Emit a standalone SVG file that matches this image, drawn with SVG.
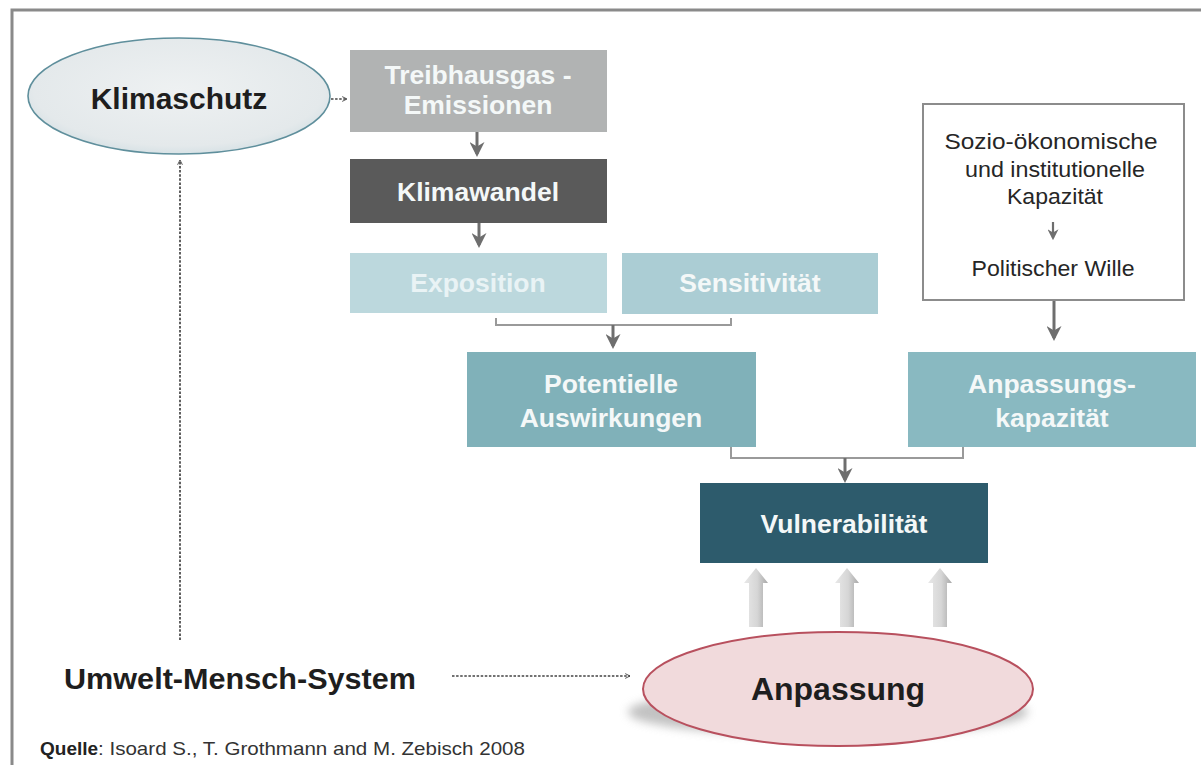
<svg xmlns="http://www.w3.org/2000/svg" width="1201" height="765" viewBox="0 0 1201 765">
<defs>
<style>
.lbl{font-family:"Liberation Sans",Arial,sans-serif;font-weight:bold;text-anchor:middle}
.w{fill:#f4f8f8;font-size:26.5px}
.dk{fill:#1e1e1e}
.soz{font-family:"Liberation Sans",Arial,sans-serif;font-weight:normal;text-anchor:middle;font-size:21.5px;fill:#262626}
.conn{fill:none;stroke:#6e6e6e;stroke-width:3}
.thin{fill:none;stroke:#9a9a9a;stroke-width:2}
.dot{fill:none;stroke:#444;stroke-width:1.7;stroke-dasharray:2.5 1.6}
</style>
<marker id="ah" viewBox="0 0 10 10" refX="8" refY="5" markerWidth="5" markerHeight="5" orient="auto-start-reverse" markerUnits="strokeWidth">
<path d="M0,0 L10,5 L0,10 L3,5 Z" fill="#6e6e6e"/>
</marker>
<marker id="oh" viewBox="0 0 10 10" refX="9" refY="5" markerWidth="6" markerHeight="6" orient="auto" markerUnits="userSpaceOnUse">
<path d="M1,1 L9,5 L1,9" fill="none" stroke="#444" stroke-width="1.5"/>
</marker>
<radialGradient id="gk" cx="50%" cy="45%" r="60%">
<stop offset="0" stop-color="#eef1f2"/><stop offset="0.8" stop-color="#e4e9eb"/><stop offset="1" stop-color="#cfdde2"/>
</radialGradient>
<linearGradient id="ga" x1="0" y1="0" x2="1" y2="0">
<stop offset="0" stop-color="#e8e8e8"/><stop offset="0.55" stop-color="#d6d6d6"/><stop offset="1" stop-color="#a8a8a8"/>
</linearGradient>
<filter id="sh" x="-20%" y="-20%" width="140%" height="160%"><feGaussianBlur stdDeviation="5"/></filter>
</defs>
<rect x="0" y="0" width="1201" height="765" fill="#ffffff"/>
<path d="M12,765 V10 H1201" fill="none" stroke="#8a8a8a" stroke-width="3"/>

<g id="connectors">
<line class="dot" x1="331" y1="99" x2="347" y2="99" marker-end="url(#oh)"/>
<line class="conn" x1="477" y1="132" x2="477" y2="154" marker-end="url(#ah)"/>
<line class="conn" x1="479" y1="223" x2="479" y2="245" marker-end="url(#ah)"/>
<path class="thin" d="M496,318 V325 H731 V318"/>
<line class="conn" x1="613" y1="325" x2="613" y2="346" marker-end="url(#ah)"/>
<line class="conn" x1="1054" y1="287" x2="1054" y2="338" marker-end="url(#ah)"/>
<path class="thin" d="M731,447 V458 H963 V447"/>
<line class="conn" x1="845" y1="458" x2="845" y2="480" marker-end="url(#ah)"/>
<line class="dot" x1="180" y1="640" x2="180" y2="160" marker-end="url(#oh)"/>
<line class="dot" x1="452" y1="676" x2="630" y2="676" marker-end="url(#oh)"/>
<g id="block-arrows" fill="url(#ga)">
<path d="M749,627 V583 H744 L756,568 L768,583 H763 V627 Z"/>
<path d="M840,627 V583 H835 L847,568 L859,583 H854 V627 Z"/>
<path d="M933,627 V583 H928 L940,568 L952,583 H947 V627 Z"/>
</g>
</g>

<g id="klimaschutz">
<ellipse cx="179" cy="96" rx="151" ry="58" fill="url(#gk)" stroke="#5f8f9c" stroke-width="1.6"/>
<text class="lbl dk" x="179" y="109" font-size="30">Klimaschutz</text>
</g>
<g id="treibhausgas">
<rect x="350" y="50" width="257" height="82" fill="#b1b3b3"/>
<text class="lbl w" x="478" y="84">Treibhausgas -</text>
<text class="lbl w" x="478" y="114">Emissionen</text>
</g>
<g id="klimawandel">
<rect x="350" y="159" width="257" height="64" fill="#5a5a5a"/>
<text class="lbl w" x="478" y="201">Klimawandel</text>
</g>
<g id="exposition">
<rect x="350" y="253" width="257" height="60" fill="#bcd8dd"/>
<text class="lbl w" x="478" y="292" style="fill:#e9f3f5">Exposition</text>
</g>
<g id="sensitivitaet">
<rect x="622" y="253" width="256" height="61" fill="#abcdd4"/>
<text class="lbl w" x="750" y="292">Sensitivität</text>
</g>
<g id="sozio">
<rect x="923" y="104" width="261" height="196" fill="#ffffff" stroke="#8c8c8c" stroke-width="2"/>
<text class="soz" x="1051" y="149" textLength="213" lengthAdjust="spacingAndGlyphs">Sozio-ökonomische</text>
<text class="soz" x="1055" y="177" textLength="180" lengthAdjust="spacingAndGlyphs">und institutionelle</text>
<text class="soz" x="1055" y="204" textLength="96" lengthAdjust="spacingAndGlyphs">Kapazität</text>
<line class="conn" x1="1053" y1="222" x2="1053" y2="238" marker-end="url(#ah)" style="stroke-width:2.2"/>
<text class="soz" x="1053" y="276" textLength="163" lengthAdjust="spacingAndGlyphs">Politischer Wille</text>
</g>
<g id="potentielle">
<rect x="467" y="352" width="289" height="95" fill="#80b1b9"/>
<text class="lbl w" x="611" y="393">Potentielle</text>
<text class="lbl w" x="611" y="427">Auswirkungen</text>
</g>
<g id="anpassungskapazitaet">
<rect x="908" y="352" width="288" height="95" fill="#89b9c1"/>
<text class="lbl w" x="1052" y="393">Anpassungs-</text>
<text class="lbl w" x="1052" y="427">kapazität</text>
</g>
<g id="vulnerabilitaet">
<rect x="700" y="483" width="288" height="80" fill="#2d5b6c"/>
<text class="lbl w" x="844" y="533">Vulnerabilität</text>
</g>
<g id="anpassung">
<ellipse cx="828" cy="712" rx="200" ry="24" fill="#9a9a9a" opacity="0.6" filter="url(#sh)"/>
<ellipse cx="838" cy="689" rx="195" ry="57" fill="#f1dadc" stroke="#b8505e" stroke-width="2"/>
<text class="lbl dk" x="838" y="700" font-size="32">Anpassung</text>
</g>
<g id="umwelt">
<text x="64" y="689" font-family="Liberation Sans, Arial, sans-serif" font-weight="bold" font-size="30" fill="#1e1e1e" textLength="352" lengthAdjust="spacingAndGlyphs">Umwelt-Mensch-System</text>
</g>
<g id="quelle">
<text x="40" y="755" font-family="Liberation Sans, Arial, sans-serif" font-size="19" font-weight="bold" fill="#222">Quelle</text>
<text x="98" y="755" font-family="Liberation Sans, Arial, sans-serif" font-size="19" fill="#333" textLength="427" lengthAdjust="spacingAndGlyphs">: Isoard S., T. Grothmann and M. Zebisch 2008</text>
</g>
</svg>
